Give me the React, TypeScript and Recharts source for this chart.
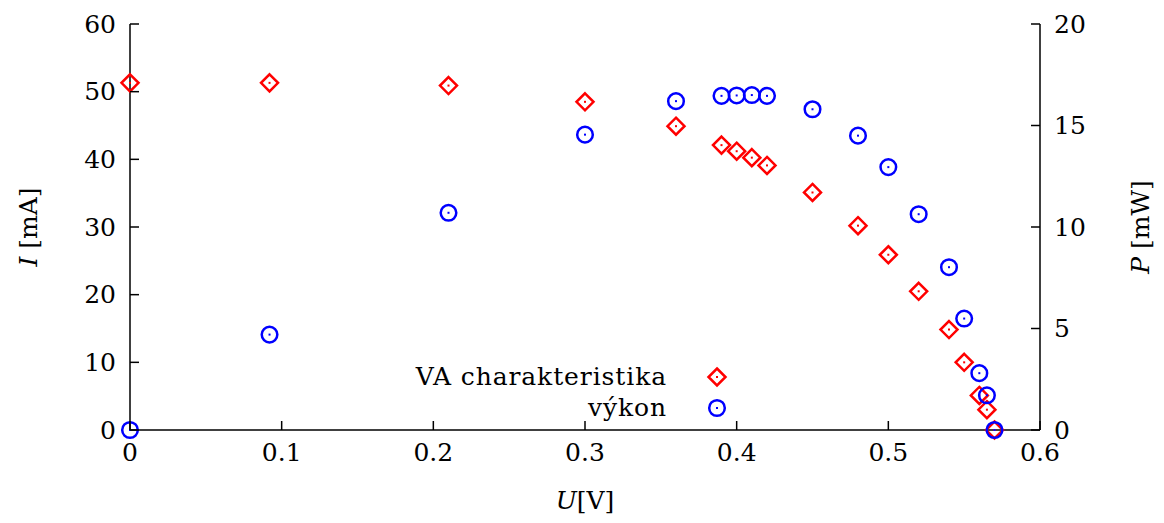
import React from "react";
import { ScatterChart, Scatter, XAxis, YAxis, Label } from "recharts";

// measured points: U [V], I [mA], P [mW]
const voltage = [0, 0.092, 0.21, 0.3, 0.36, 0.39, 0.4, 0.41, 0.42, 0.45, 0.48, 0.5, 0.52, 0.54, 0.55, 0.56, 0.565, 0.57];
const current = [51.3, 51.3, 50.9, 48.5, 44.9, 42.1, 41.2, 40.25, 39.1, 35.1, 30.2, 25.9, 20.5, 14.85, 10.0, 5.1, 3.0, 0];
const power = [0, 4.7, 10.7, 14.55, 16.2, 16.46, 16.48, 16.5, 16.46, 15.8, 14.5, 12.95, 10.63, 8.02, 5.49, 2.8, 1.71, 0];

const xTicks = [0, 0.1, 0.2, 0.3, 0.4, 0.5, 0.6];
const leftTicks = [0, 10, 20, 30, 40, 50, 60];
const rightTicks = [0, 5, 10, 15, 20];

const seriesNames = ["VA charakteristika", "výkon"];

const FONT = "'DejaVu Serif', serif";
const FS = 25;
const RED = "#ff0000";
const BLUE = "#0000ff";
const TICK_LEN = 9;
const MARGIN_X = 13;
const MARGIN_Y = 14;

const data = voltage.map((u, i) => ({ U: u, I: current[i], P: power[i] }));

const Diamond = ({ cx, cy }: any) => {
  if (cx == null || cy == null) return null;
  const r = 8.5;
  return (
    <g>
      <polygon
        points={`${cx},${cy - r} ${cx + r},${cy} ${cx},${cy + r} ${cx - r},${cy}`}
        fill="none"
        stroke={RED}
        strokeWidth={2.5}
      />
      <rect x={cx - 1} y={cy - 1} width={2} height={2} fill={RED} />
    </g>
  );
};

const Ring = ({ cx, cy }: any) => {
  if (cx == null || cy == null) return null;
  return (
    <g>
      <circle cx={cx} cy={cy} r={7.8} fill="none" stroke={BLUE} strokeWidth={2.5} />
      <rect x={cx - 1} y={cy - 1} width={2} height={2} fill={BLUE} />
    </g>
  );
};

const fmt = (v: number) => String(v);

const XTick = ({ x, y, payload }: any) => {
  const ay = y - MARGIN_X;
  return (
    <g>
      <line x1={x} y1={ay} x2={x} y2={ay - TICK_LEN} stroke="#000" strokeWidth={1.5} />
      <text x={x} y={y} dy="0.71em" textAnchor="middle" fontFamily={FONT} fontSize={FS} fill="#000">
        {fmt(payload.value)}
      </text>
    </g>
  );
};

const LeftTick = ({ x, y, payload }: any) => {
  const ax = x + MARGIN_Y;
  return (
    <g>
      <line x1={ax} y1={y} x2={ax + TICK_LEN} y2={y} stroke="#000" strokeWidth={1.5} />
      <text x={x} y={y} dy="0.35em" textAnchor="end" fontFamily={FONT} fontSize={FS} fill="#000">
        {fmt(payload.value)}
      </text>
    </g>
  );
};

const RightTick = ({ x, y, payload }: any) => {
  const ax = x - MARGIN_Y;
  return (
    <g>
      <line x1={ax} y1={y} x2={ax - TICK_LEN} y2={y} stroke="#000" strokeWidth={1.5} />
      <text x={x} y={y} dy="0.35em" textAnchor="start" fontFamily={FONT} fontSize={FS} fill="#000">
        {fmt(payload.value)}
      </text>
    </g>
  );
};

const axisTitle = (italic: string, rest: string, dx: number, dy: number, rotate: boolean) =>
  ({ viewBox }: any) => {
    const cx = viewBox.x + viewBox.width / 2 + dx;
    const cy = viewBox.y + viewBox.height / 2 + dy;
    return (
      <text
        x={cx}
        y={cy}
        textAnchor="middle"
        dominantBaseline="central"
        fontFamily={FONT}
        fontSize={FS}
        fill="#000"
        transform={rotate ? `rotate(-90, ${cx}, ${cy})` : undefined}
      >
        <tspan fontStyle="italic">{italic}</tspan>
        {rest}
      </text>
    );
  };

export default function App() {
  return (
    <div style={{ position: "absolute", left: 0, top: 0, width: 1164, height: 523, background: "#fff" }}>
      <ScatterChart
        width={1164}
        height={523}
        margin={{ top: 24, right: 64, bottom: 33, left: 70 }}
      >
        <XAxis
          type="number"
          dataKey="U"
          domain={[0, 0.6]}
          ticks={xTicks}
          height={60}
          tickSize={0}
          tickMargin={MARGIN_X}
          tick={<XTick />}
          axisLine={{ stroke: "#000", strokeWidth: 1.5 }}
          tickLine={false}
        >
          <Label content={axisTitle("U", "[V]", 0, 40, false)} />
        </XAxis>
        <YAxis
          yAxisId="left"
          type="number"
          dataKey="I"
          domain={[0, 60]}
          ticks={leftTicks}
          width={60}
          tickSize={0}
          tickMargin={MARGIN_Y}
          tick={<LeftTick />}
          axisLine={{ stroke: "#000", strokeWidth: 1.5 }}
          tickLine={false}
        >
          <Label content={axisTitle("I", " [mA]", -72, 0, true)} />
        </YAxis>
        <YAxis
          yAxisId="right"
          orientation="right"
          type="number"
          dataKey="P"
          domain={[0, 20]}
          ticks={rightTicks}
          width={60}
          tickSize={0}
          tickMargin={MARGIN_Y}
          tick={<RightTick />}
          axisLine={{ stroke: "#000", strokeWidth: 1.5 }}
          tickLine={false}
        >
          <Label content={axisTitle("P", " [mW]", 70, 0, true)} />
        </YAxis>
        <Scatter
          name={seriesNames[0]}
          data={data}
          yAxisId="left"
          shape={<Diamond />}
          isAnimationActive={false}
        />
        <Scatter
          name={seriesNames[1]}
          data={data}
          yAxisId="right"
          shape={<Ring />}
          isAnimationActive={false}
        />
      </ScatterChart>

      {/* legend, right-aligned text with marker on the right */}
      <div style={{ position: "absolute", left: 360, top: 361, fontFamily: FONT, fontSize: FS, lineHeight: "31px" }}>
        {seriesNames.map((name, i) => (
          <div key={name} style={{ display: "flex", alignItems: "center", height: 31 }}>
            <span style={{ width: 307, textAlign: "right", whiteSpace: "nowrap", letterSpacing: "0.9px" }}>{name}</span>
            <svg width={80} height={31} style={{ marginLeft: 8 }}>
              {i === 0 ? <Diamond cx={42} cy={16} /> : <Ring cx={42} cy={16} />}
            </svg>
          </div>
        ))}
      </div>
    </div>
  );
}
